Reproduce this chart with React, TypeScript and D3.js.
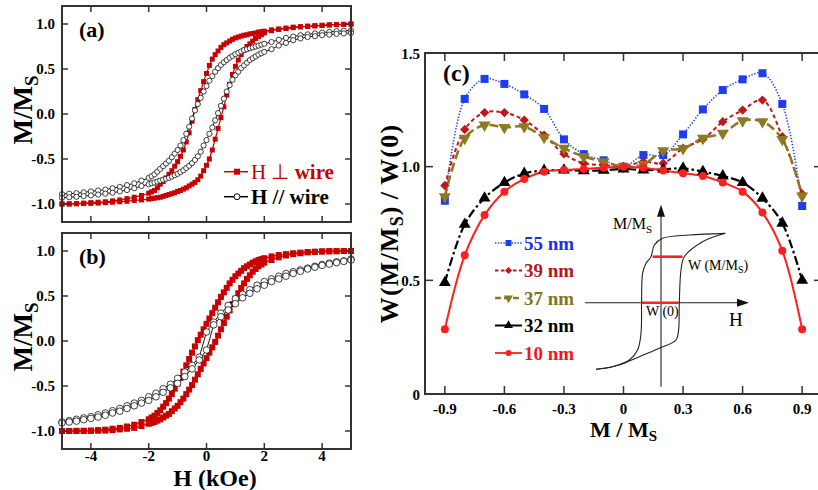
import React from "react";
import * as d3 from "d3";

const FONT = "'Liberation Serif', 'Times New Roman', Times, serif";

// field sweep (kOe) used for the dense loops
const fieldH = [
  -5, -4.75, -4.5, -4.25, -4, -3.75, -3.5, -3.25, -3, -2.75, -2.5, -2.25, -2,
  -1.9, -1.8, -1.7, -1.6, -1.5, -1.4, -1.3, -1.2, -1.1, -1, -0.9, -0.8, -0.7, -0.6, -0.5, -0.4, -0.3, -0.2, -0.1,
  0, 0.1, 0.2, 0.3, 0.4, 0.5, 0.6, 0.7, 0.8, 0.9, 1, 1.1, 1.2, 1.3, 1.4, 1.5, 1.6, 1.7, 1.8, 1.9,
  2, 2.25, 2.5, 2.75, 3, 3.25, 3.5, 3.75, 4, 4.25, 4.5, 4.75, 5,
];
// coarser sweep for the H // wire loop of (b)
const fieldCoarse = [
  -5, -4.75, -4.5, -4.25, -4, -3.75, -3.5, -3.25, -3, -2.75, -2.5, -2.25, -2, -1.75, -1.5, -1.25, -1, -0.75, -0.5, -0.25,
  0, 0.25, 0.5, 0.75, 1, 1.25, 1.5, 1.75, 2, 2.25, 2.5, 2.75, 3, 3.25, 3.5, 3.75, 4, 4.25, 4.5, 4.75, 5,
];

// (a) H perpendicular to wire
const perpDownA = [
  -1.0, -0.998, -0.995, -0.99, -0.985, -0.98, -0.975, -0.965, -0.955, -0.94, -0.925, -0.905, -0.88,
  -0.865, -0.85, -0.82, -0.78, -0.75, -0.71, -0.67, -0.63, -0.58, -0.53, -0.47, -0.4, -0.31, -0.21, -0.08, 0.05, 0.16, 0.26, 0.36,
  0.45, 0.54, 0.61, 0.66, 0.7, 0.74, 0.77, 0.79, 0.81, 0.83, 0.845, 0.855, 0.865, 0.875, 0.88, 0.89, 0.895, 0.9, 0.91, 0.915,
  0.92, 0.935, 0.945, 0.955, 0.965, 0.97, 0.975, 0.98, 0.985, 0.99, 0.993, 0.996, 1.0,
];
const perpUpA = [
  -1.0, -1.0, -0.998, -0.995, -0.993, -0.99, -0.985, -0.98, -0.975, -0.97, -0.96, -0.955, -0.945,
  -0.94, -0.935, -0.93, -0.925, -0.915, -0.905, -0.895, -0.885, -0.875, -0.86, -0.85, -0.835, -0.82, -0.8, -0.78, -0.76, -0.73, -0.69, -0.63,
  -0.57, -0.5, -0.4, -0.28, -0.16, -0.04, 0.08, 0.21, 0.33, 0.44, 0.53, 0.6, 0.66, 0.71, 0.75, 0.78, 0.81, 0.84, 0.86, 0.88,
  0.9, 0.925, 0.94, 0.95, 0.96, 0.968, 0.975, 0.98, 0.985, 0.99, 0.993, 0.996, 1.0,
];
// (a) H parallel to wire
const paraDownA = [
  -0.89, -0.885, -0.88, -0.87, -0.86, -0.85, -0.84, -0.825, -0.81, -0.79, -0.77, -0.74, -0.71,
  -0.69, -0.67, -0.64, -0.61, -0.58, -0.55, -0.52, -0.48, -0.44, -0.4, -0.35, -0.29, -0.22, -0.14, -0.05, 0.04, 0.11, 0.18, 0.25,
  0.31, 0.37, 0.42, 0.47, 0.51, 0.545, 0.575, 0.6, 0.625, 0.645, 0.665, 0.68, 0.695, 0.71, 0.72, 0.73, 0.74, 0.75, 0.76, 0.77,
  0.78, 0.8, 0.825, 0.845, 0.86, 0.875, 0.885, 0.895, 0.905, 0.912, 0.92, 0.925, 0.93,
];
const paraUpA = [
  -0.93, -0.925, -0.92, -0.912, -0.905, -0.895, -0.885, -0.875, -0.86, -0.845, -0.825, -0.8, -0.78,
  -0.77, -0.76, -0.75, -0.74, -0.73, -0.72, -0.71, -0.695, -0.68, -0.665, -0.645, -0.625, -0.6, -0.575, -0.545, -0.51, -0.47, -0.42, -0.35,
  -0.29, -0.22, -0.15, -0.07, 0.01, 0.09, 0.17, 0.25, 0.32, 0.38, 0.43, 0.47, 0.51, 0.54, 0.57, 0.6, 0.62, 0.64, 0.66, 0.675,
  0.69, 0.72, 0.76, 0.79, 0.82, 0.84, 0.855, 0.865, 0.875, 0.882, 0.89, 0.895, 0.9,
];
// (b) H perpendicular to wire
const perpDownB = [
  -1.0, -1.0, -0.998, -0.997, -0.995, -0.99, -0.985, -0.975, -0.965, -0.95, -0.93, -0.9, -0.87,
  -0.85, -0.83, -0.8, -0.77, -0.73, -0.69, -0.64, -0.59, -0.53, -0.47, -0.41, -0.34, -0.27, -0.2, -0.13, -0.06, 0.01, 0.07, 0.13,
  0.19, 0.25, 0.31, 0.37, 0.43, 0.49, 0.54, 0.59, 0.64, 0.68, 0.72, 0.75, 0.78, 0.81, 0.83, 0.85, 0.87, 0.885, 0.9, 0.91,
  0.92, 0.94, 0.955, 0.965, 0.975, 0.982, 0.988, 0.992, 0.995, 0.997, 0.998, 1.0, 1.0,
];
const perpUpB = [
  -1.0, -1.0, -1.0, -1.0, -0.998, -0.997, -0.995, -0.99, -0.982, -0.975, -0.965, -0.945, -0.92,
  -0.91, -0.9, -0.885, -0.87, -0.85, -0.83, -0.81, -0.78, -0.75, -0.72, -0.68, -0.64, -0.59, -0.54, -0.49, -0.43, -0.37, -0.31, -0.25,
  -0.19, -0.13, -0.07, -0.01, 0.06, 0.13, 0.2, 0.27, 0.34, 0.41, 0.47, 0.53, 0.59, 0.64, 0.69, 0.73, 0.77, 0.8, 0.83, 0.85,
  0.87, 0.9, 0.93, 0.95, 0.965, 0.975, 0.985, 0.99, 0.995, 0.997, 0.998, 1.0, 1.0,
];
// (b) H parallel to wire
const paraDownB = [
  -0.9, -0.885, -0.87, -0.855, -0.84, -0.82, -0.8, -0.775, -0.75, -0.72, -0.69, -0.66, -0.62, -0.58, -0.53, -0.48, -0.415, -0.345, -0.27, -0.18,
  0.1, 0.21, 0.31, 0.395, 0.47, 0.52, 0.57, 0.62, 0.66, 0.69, 0.72, 0.75, 0.77, 0.79, 0.81, 0.83, 0.85, 0.865, 0.88, 0.89, 0.91,
];
const paraUpB = [
  -0.91, -0.9, -0.89, -0.875, -0.86, -0.845, -0.825, -0.8, -0.78, -0.75, -0.72, -0.69, -0.66, -0.62, -0.57, -0.52, -0.47, -0.395, -0.31, -0.21,
  -0.1, 0.18, 0.27, 0.345, 0.415, 0.48, 0.53, 0.58, 0.62, 0.66, 0.69, 0.72, 0.75, 0.775, 0.8, 0.82, 0.84, 0.855, 0.87, 0.885, 0.9,
];

// (c) normalised loop width vs M/Ms
const mRatio = [-0.9, -0.8, -0.7, -0.6, -0.5, -0.4, -0.3, -0.2, -0.1, 0, 0.1, 0.2, 0.3, 0.4, 0.5, 0.6, 0.7, 0.8, 0.9];
const w55 = [0.85, 1.298, 1.386, 1.364, 1.318, 1.254, 1.12, 1.055, 1.028, 1.0, 1.051, 1.051, 1.142, 1.252, 1.337, 1.384, 1.411, 1.276, 0.827];
const w39 = [0.917, 1.164, 1.238, 1.238, 1.205, 1.139, 1.056, 1.015, 1.007, 1.0, 1.022, 1.015, 1.081, 1.12, 1.198, 1.249, 1.293, 1.132, 0.88];
const w37 = [0.868, 1.125, 1.183, 1.173, 1.176, 1.129, 1.081, 1.044, 1.022, 1.0, 1.01, 1.07, 1.08, 1.125, 1.147, 1.202, 1.198, 1.12, 0.871];
const w32 = [0.49, 0.746, 0.862, 0.93, 0.97, 0.983, 0.985, 0.982, 0.984, 0.99, 0.985, 0.988, 0.993, 0.978, 0.959, 0.93, 0.861, 0.751, 0.5];
const w10 = [0.285, 0.61, 0.787, 0.89, 0.946, 0.978, 0.985, 0.99, 0.995, 1.0, 0.995, 0.983, 0.971, 0.959, 0.93, 0.89, 0.798, 0.63, 0.285];
const sizeLabels = ["55 nm", "39 nm", "37 nm", "32 nm", "10 nm"];

// schematic loop of the inset (H, M/Ms in arbitrary units)
const insetDown: [number, number][] = [
  [3.215, 0.991], [1.415, 0.967], [0.08, 0.92], [-0.335, 0.824], [-0.5, 0.657], [-0.75, 0.563], [-0.92, 0.42],
  [-0.97, 0.039], [-1.0, -0.437], [-1.17, -0.676], [-1.585, -0.819], [-2.42, -0.914], [-3.25, -0.951],
];
const insetUp: [number, number][] = [
  [-3.25, -0.951], [-2.085, -0.89], [-1.085, -0.771], [-0.085, -0.651], [0.75, -0.533], [0.88, -0.39],
  [0.915, -0.009], [1.0, 0.467], [1.165, 0.657], [2.08, 0.871], [3.215, 0.991],
];
const insetWidths = [
  { m: 0.657, from: -0.42, to: 1.08 },
  { m: 0, from: -0.97, to: 0.88 },
];

const hTicks = [-4, -2, 0, 2, 4];
const mTicks = [-1, -0.5, 0, 0.5, 1];
const cxTicks = [-0.9, -0.6, -0.3, 0, 0.3, 0.6, 0.9];
const cyTicks = [0, 0.5, 1, 1.5];

type Pt = [number, number];
const zip = (xs: number[], ys: number[]): Pt[] => xs.map((x, i) => [x, ys[i]]);

const RED = "#c80000";

const seriesStyle = [
  { color: "#1f3df0", text: "#1f2fe6", dash: "1.3 1.7", key: "1.3 1.5", width: 1.6, shape: "square" },
  { color: "#c0161c", text: "#b8141b", dash: "4 3", key: "3.5 2.5", width: 2, shape: "diamond" },
  { color: "#8a7a22", text: "#857420", dash: "9 4", key: "6 3", width: 2.6, shape: "tdown" },
  { color: "#000000", text: "#000000", dash: "9 3 2.5 3", key: "none", width: 2.2, shape: "tup" },
  { color: "#ff1f1f", text: "#f01818", dash: "none", key: "none", width: 2, shape: "circle" },
];

function marker(shape: string, x: number, y: number, color: string, k: number, key?: string) {
  if (shape === "square")
    return <rect key={key} x={x - 4 * k} y={y - 4 * k} width={8 * k} height={8 * k} fill={color} />;
  if (shape === "diamond")
    return (
      <rect key={key} x={x - 3.3 * k} y={y - 3.3 * k} width={6.6 * k} height={6.6 * k} fill={color}
        transform={`rotate(45 ${x} ${y})`} />
    );
  if (shape === "circle") return <circle key={key} cx={x} cy={y} r={4 * k} fill={color} />;
  const tri = d3.symbol().type(d3.symbolTriangle).size(62 * k * k)() as string;
  return (
    <path key={key} d={tri} fill={color}
      transform={`translate(${x},${y})${shape === "tdown" ? " rotate(180)" : ""}`} />
  );
}

export default function App() {
  const xH = d3.scaleLinear().domain([-5, 5]).range([62, 351]);
  const yA = d3.scaleLinear().domain([-1.2, 1.2]).range([222, 6]);
  const yB = d3.scaleLinear().domain([-1.2, 1.2]).range([449, 233]);
  const xC = d3.scaleLinear().domain([-1, 1]).range([425, 822]);
  const yC = d3.scaleLinear().domain([0, 1.5]).range([394, 53]);
  const xI = d3.scaleLinear().domain([-3.8, 4.4]).range([585, 749]);
  const yI = d3.scaleLinear().domain([-1.2, 1.4]).range([386.7, 204.7]);

  const loopPanel = (
    y: d3.ScaleLinear<number, number>,
    tag: string,
    pDown: number[], pUp: number[],
    qGrid: number[], qDown: number[], qUp: number[],
    sq: number, cr: number, showX: boolean
  ) => {
    const [x0, x1] = xH.range();
    const [y1, y0] = y.range();
    const ln = d3.line<Pt>().x(d => xH(d[0])).y(d => y(d[1]));
    const pd = zip(fieldH, pDown), pu = zip(fieldH, pUp);
    const qd = zip(qGrid, qDown), qu = zip(qGrid, qUp);
    return (
      <g>
        <path d={ln(pd) || ""} fill="none" stroke={RED} strokeWidth={1.2} />
        <path d={ln(pu) || ""} fill="none" stroke={RED} strokeWidth={1.2} />
        {pd.concat(pu).map((d, i) => (
          <rect key={"r" + i} x={xH(d[0]) - sq / 2} y={y(d[1]) - sq / 2} width={sq} height={sq} fill={RED} />
        ))}
        <path d={ln(qd) || ""} fill="none" stroke="#000" strokeWidth={0.9} />
        <path d={ln(qu) || ""} fill="none" stroke="#000" strokeWidth={0.9} />
        {qd.concat(qu).map((d, i) => (
          <circle key={"c" + i} cx={xH(d[0])} cy={y(d[1])} r={cr} fill="#fff" stroke="#111" strokeWidth={0.8} />
        ))}
        <rect x={x0} y={y0} width={x1 - x0} height={y1 - y0} fill="none" stroke="#333" strokeWidth={2} />
        {hTicks.map(t => (
          <g key={"x" + t}>
            <line x1={xH(t)} x2={xH(t)} y1={y1} y2={y1 - 6} stroke="#333" strokeWidth={1.5} />
            <line x1={xH(t)} x2={xH(t)} y1={y0} y2={y0 + 6} stroke="#333" strokeWidth={1.5} />
            {showX && (
              <text x={xH(t)} y={461} textAnchor="middle" fontSize={15} fontWeight="bold">{t < 0 ? "-" + -t : t}</text>
            )}
          </g>
        ))}
        {mTicks.map(t => (
          <g key={"y" + t}>
            <line x1={x0} x2={x0 + 6} y1={y(t)} y2={y(t)} stroke="#333" strokeWidth={1.5} />
            <line x1={x1} x2={x1 - 6} y1={y(t)} y2={y(t)} stroke="#333" strokeWidth={1.5} />
            <text x={55} y={y(t) + 5} textAnchor="end" fontSize={15} fontWeight="bold">
              {t < 0 ? "-" + (-t).toFixed(1) : t.toFixed(1)}
            </text>
          </g>
        ))}
        <text x={79} y={y0 + 31} fontSize={22} fontWeight="bold">{tag}</text>
        <text transform={`translate(32,${y(0) - 4}) rotate(-90)`} textAnchor="middle" fontSize={27} fontWeight="bold">
          M/M<tspan fontSize={19} dy={6}>S</tspan>
        </text>
      </g>
    );
  };

  const curve = d3.line<Pt>().x(d => xC(d[0])).y(d => yC(d[1])).curve(d3.curveCatmullRom.alpha(0.5));
  const series = [w55, w39, w37, w32, w10];
  const insetLine = d3.line<Pt>().x(d => xI(d[0])).y(d => yI(d[1])).curve(d3.curveCatmullRom.alpha(0.5));
  const [cx0, cx1] = xC.range();
  const [cy1, cy0] = yC.range();
  const legendY = sizeLabels.map((_, i) => 243 + i * 27.5);

  return (
    <svg width={818} height={490} style={{ position: "absolute", left: 0, top: 0, background: "#fff" }} fontFamily={FONT}>
      <rect width={818} height={490} fill="#fff" />
      {loopPanel(yA, "(a)", perpDownA, perpUpA, fieldH, paraDownA, paraUpA, 5, 2.6, false)}
      {loopPanel(yB, "(b)", perpDownB, perpUpB, fieldCoarse, paraDownB, paraUpB, 6, 3.3, true)}

      {/* legend (a) */}
      <line x1={224} x2={248} y1={171.7} y2={171.7} stroke={RED} strokeWidth={1.5} />
      <rect x={234} y={168.7} width={6} height={6} fill={RED} />
      <text x={251} y={179} fontSize={21} fill={RED}>
        H ⊥ <tspan fontWeight="bold">wire</tspan>
      </text>
      <line x1={224} x2={248} y1={196.7} y2={196.7} stroke="#000" strokeWidth={1.5} />
      <circle cx={237} cy={196.7} r={3} fill="#fff" stroke="#000" strokeWidth={1} />
      <text x={251} y={204} fontSize={21} fontWeight="bold">H // wire</text>

      <text x={215} y={486} textAnchor="middle" fontSize={24} fontWeight="bold">H (kOe)</text>

      {/* panel (c) */}
      {series.map((s, i) => (
        <path key={"l" + i} d={curve(zip(mRatio, s)) || ""} fill="none" stroke={seriesStyle[i].color}
          strokeWidth={seriesStyle[i].width} strokeDasharray={seriesStyle[i].dash} />
      ))}
      {series.map((s, i) => (
        <g key={"m" + i}>
          {zip(mRatio, s).map((d, j) => marker(seriesStyle[i].shape, xC(d[0]), yC(d[1]), seriesStyle[i].color, 1, "p" + j))}
        </g>
      ))}
      <rect x={cx0} y={cy0} width={cx1 - cx0} height={cy1 - cy0} fill="none" stroke="#333" strokeWidth={2} />
      {cxTicks.map(t => (
        <g key={"cx" + t}>
          <line x1={xC(t)} x2={xC(t)} y1={cy1} y2={cy1 - 8} stroke="#333" strokeWidth={1.5} />
          <line x1={xC(t)} x2={xC(t)} y1={cy0} y2={cy0 + 8} stroke="#333" strokeWidth={1.5} />
          <text x={xC(t)} y={414} textAnchor="middle" fontSize={15} fontWeight="bold">
            {t === 0 ? "0" : t < 0 ? "-" + (-t).toFixed(1) : t.toFixed(1)}
          </text>
        </g>
      ))}
      {cyTicks.map(t => (
        <g key={"cy" + t}>
          <line x1={cx0} x2={cx0 + 8} y1={yC(t)} y2={yC(t)} stroke="#333" strokeWidth={1.5} />
          <line x1={cx1} x2={cx1 - 8} y1={yC(t)} y2={yC(t)} stroke="#333" strokeWidth={1.5} />
          <text x={420} y={yC(t) + 5.5} textAnchor="end" fontSize={15} fontWeight="bold">
            {t === 0 ? "0" : t.toFixed(1)}
          </text>
        </g>
      ))}
      <text x={443} y={81} fontSize={24} fontWeight="bold">(c)</text>
      <text x={xC(0)} y={437} textAnchor="middle" fontSize={22} fontWeight="bold">
        M / M<tspan fontSize={15} dy={4}>S</tspan>
      </text>
      <text transform={`translate(398,${(cy0 + cy1) / 2}) rotate(-90)`} textAnchor="middle" fontSize={26}
        fontWeight="bold" letterSpacing={1.2}>
        W(M/M<tspan fontSize={18} dy={5}>S</tspan><tspan dy={-5}>)</tspan><tspan dx={6}>/</tspan><tspan dx={6}>W(0)</tspan>
      </text>

      {/* legend (c) */}
      {sizeLabels.map((lab, i) => (
        <g key={"lg" + i}>
          <line x1={495} x2={522} y1={legendY[i]} y2={legendY[i]} stroke={seriesStyle[i].color}
            strokeWidth={seriesStyle[i].width * 0.9} strokeDasharray={seriesStyle[i].key} />
          {marker(seriesStyle[i].shape, 508.5, legendY[i], seriesStyle[i].color, 0.75)}
          <text x={524} y={legendY[i] + 6.5} fontSize={19} fontWeight="bold" fill={seriesStyle[i].text}>{lab}</text>
        </g>
      ))}

      {/* inset */}
      <line x1={xI(-3.8)} x2={xI(4.4) - 8} y1={yI(0)} y2={yI(0)} stroke="#222" strokeWidth={1.1} />
      <path d={`M${xI(4.4)},${yI(0)} l-12,-4 l0,8 z`} fill="#111" />
      <line x1={xI(0)} x2={xI(0)} y1={yI(-1.2)} y2={yI(1.4) + 8} stroke="#222" strokeWidth={1.1} />
      <path d={`M${xI(0)},${yI(1.4)} l-4,12 l8,0 z`} fill="#111" />
      <path d={insetLine(insetDown) || ""} fill="none" stroke="#222" strokeWidth={1.1} />
      <path d={insetLine(insetUp) || ""} fill="none" stroke="#222" strokeWidth={1.1} />
      {insetWidths.map((w, i) => (
        <line key={"iw" + i} x1={xI(w.from)} x2={xI(w.to)} y1={yI(w.m)} y2={yI(w.m)} stroke="#ff2020" strokeWidth={2.6} />
      ))}
      <text x={652} y={229} textAnchor="end" fontSize={16}>
        M/M<tspan fontSize={11} dy={4}>S</tspan>
      </text>
      <text x={688} y={270} fontSize={14}>
        W (M/M<tspan fontSize={10} dy={3}>S</tspan><tspan dy={-3}>)</tspan>
      </text>
      <text x={646} y={316} fontSize={14}>W (0)</text>
      <text x={729} y={326} fontSize={19}>H</text>
    </svg>
  );
}
